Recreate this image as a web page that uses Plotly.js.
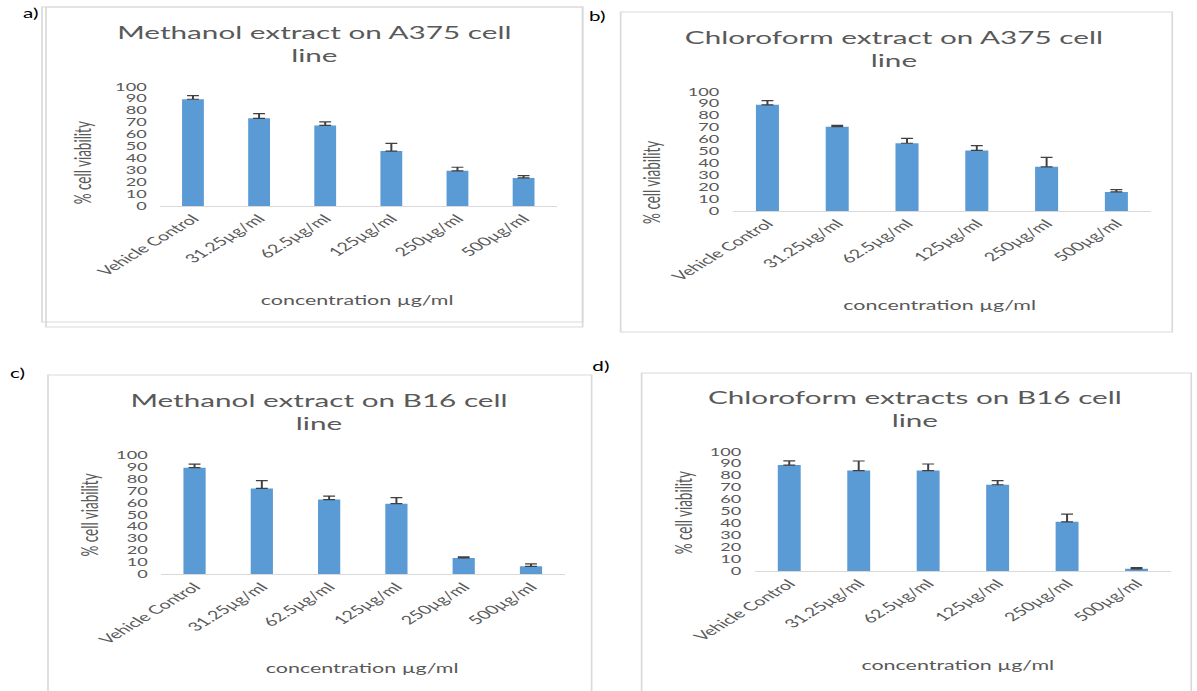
<!DOCTYPE html>
<html>
<head>
<meta charset="utf-8">
<script src="https://cdn.plot.ly/plotly-3.0.1.min.js"></script>
<style>
  html, body { margin: 0; padding: 0; background: #ffffff; overflow: hidden; }
  #wrap { width: 1197px; height: 691px; overflow: hidden; }
  #chart { transform-origin: 0 0; }
</style>
</head>
<body>
<div id="wrap"><div id="chart"></div></div>
<script>
// ---------------- data ----------------
const categories = ["Vehicle Control", "31.25µg/ml", "62.5µg/ml", "125µg/ml", "250µg/ml", "500µg/ml"];

const titleA = "Methanol extract on A375 cell<br>line";
const titleB = "Chloroform extract on A375 cell<br>line";
const titleC = "Methanol extract on B16 cell<br>line";
const titleD = "Chloroform extracts on B16 cell<br>line";

const xTitle = "concentration µg/ml";
const yTitle = "% cell viability";
const panelLabels = ["a)", "b)", "c)", "d)"];

const methanolA375   = [89.5, 73.5, 67.5, 46.0, 29.5, 23.5];
const methanolA375Err = [3.0, 4.0, 3.0, 6.5, 3.0, 2.0];

const chloroformA375 = [89.0, 70.7, 56.8, 50.8, 37.0, 16.0];
const chloroformA375Err = [3.5, 1.0, 4.0, 4.0, 8.0, 2.0];

const methanolB16    = [89.4, 72.0, 62.6, 59.2, 13.7, 6.7];
const methanolB16Err = [3.0, 6.5, 3.0, 5.0, 1.0, 2.0];

const chloroformB16  = [88.8, 84.2, 84.2, 72.3, 41.2, 1.8];
const chloroformB16Err = [3.5, 8.0, 5.5, 3.5, 6.5, 1.0];

const noMinusErr = [0, 0, 0, 0, 0, 0];

// ---------------- layout helpers ----------------
const FULL_W = 1197, FULL_H = 691;
const K = 1.65;                       // horizontal stretch of the reference figure
const W = FULL_W / K;
const px = x => x / FULL_W;
const py = y => 1 - y / FULL_H;

const FONT = "Lato, 'Open Sans', sans-serif";
const GREY = "#595959";
const BAR = "#5B9BD5";
const ERR = "#404040";
const LINE = "#D9D9D9";

const panels = [
  {vals: methanolA375,   err: methanolA375Err,   title: titleA, box: [160, 557, 86.7, 206],
   t: [314, 44], xt: [358, 300], yt: [83, 163], lab: [30, 13],
   frames: [[42, 7, 583, 322], [46, 7, 583, 327]]},
  {vals: chloroformA375, err: chloroformA375Err, title: titleB, box: [733, 1152, 91.7, 211],
   t: [895, 49], xt: [940, 305], yt: [652, 182], lab: [597, 17],
   frames: [[621, 12, 1173, 332]]},
  {vals: methanolB16,    err: methanolB16Err,    title: titleC, box: [161, 565, 455, 574.3],
   t: [319, 412], xt: [363, 668], yt: [90, 515], lab: [17, 373],
   frames: [[48, 375, 592, 700]]},
  {vals: chloroformB16,  err: chloroformB16Err,  title: titleD, box: [755, 1172, 451.7, 571],
   t: [916, 408], xt: [959, 665], yt: [684, 513], lab: [601, 367],
   frames: [[642, 373, 1192, 700]]}
];

const traces = [];
const layout = {
  width: W, height: FULL_H,
  margin: {l: 0, r: 0, t: 0, b: 0, pad: 0},
  paper_bgcolor: "#ffffff", plot_bgcolor: "rgba(0,0,0,0)",
  showlegend: false,
  bargap: 0.67,
  font: {family: FONT, color: GREY},
  annotations: [],
  shapes: []
};

panels.forEach((p, i) => {
  const n = i === 0 ? "" : String(i + 1);
  traces.push({
    type: "bar",
    x: categories,
    y: p.vals,
    xaxis: "x" + n, yaxis: "y" + n,
    marker: {color: BAR, line: {width: 0}},
    error_y: {type: "data", symmetric: false, array: p.err, arrayminus: noMinusErr,
              color: ERR, thickness: 1.2, width: 3.6},
    hoverinfo: "x+y"
  });
  const [x0, x1, yTop, yBot] = p.box;
  layout["xaxis" + n] = {
    domain: [px(x0), px(x1)], anchor: "y" + n,
    type: "category", showline: true, linecolor: LINE, linewidth: 1,
    ticks: "", showgrid: false, zeroline: false,
    tickangle: -45, tickfont: {family: FONT, size: 12, color: GREY},
    fixedrange: true
  };
  layout["yaxis" + n] = {
    domain: [py(yBot), py(yTop)], anchor: "x" + n,
    range: [0, 100], dtick: 10, tick0: 0,
    showline: false, showgrid: false, zeroline: false, ticks: "",
    ticklabelstandoff: 7,
    tickfont: {family: FONT, size: 11, color: GREY},
    fixedrange: true
  };
  layout.annotations.push({
    xref: "paper", yref: "paper", x: px(p.t[0]), y: py(p.t[1]),
    xanchor: "center", yanchor: "middle", showarrow: false, align: "center",
    text: p.title, font: {family: FONT, size: 18, color: GREY}
  });
  layout.annotations.push({
    xref: "paper", yref: "paper", x: px(p.xt[0]), y: py(p.xt[1]),
    xanchor: "center", yanchor: "middle", showarrow: false,
    text: xTitle, font: {family: FONT, size: 13, color: GREY}
  });
  layout.annotations.push({
    xref: "paper", yref: "paper", x: px(p.yt[0]), y: py(p.yt[1]),
    xanchor: "center", yanchor: "middle", showarrow: false, textangle: -90,
    text: yTitle, font: {family: FONT, size: 13.5, color: GREY}
  });
  layout.annotations.push({
    xref: "paper", yref: "paper", x: px(p.lab[0]), y: py(p.lab[1]),
    xanchor: "center", yanchor: "middle", showarrow: false,
    text: panelLabels[i], font: {family: FONT, size: 12.5, color: "#000000"}
  });
  p.frames.forEach(f => {
    layout.shapes.push({
      type: "rect", xref: "paper", yref: "paper", layer: "below",
      x0: px(f[0]), x1: px(f[2]), y0: py(f[3]), y1: py(f[1]),
      line: {color: LINE, width: 1}, fillcolor: "rgba(0,0,0,0)"
    });
  });
});

const el = document.getElementById("chart");
el.style.width = W + "px";
el.style.height = FULL_H + "px";
el.style.transform = "scaleX(" + K + ")";
Plotly.newPlot(el, traces, layout, {displayModeBar: false, staticPlot: true});
</script>
</body>
</html>
